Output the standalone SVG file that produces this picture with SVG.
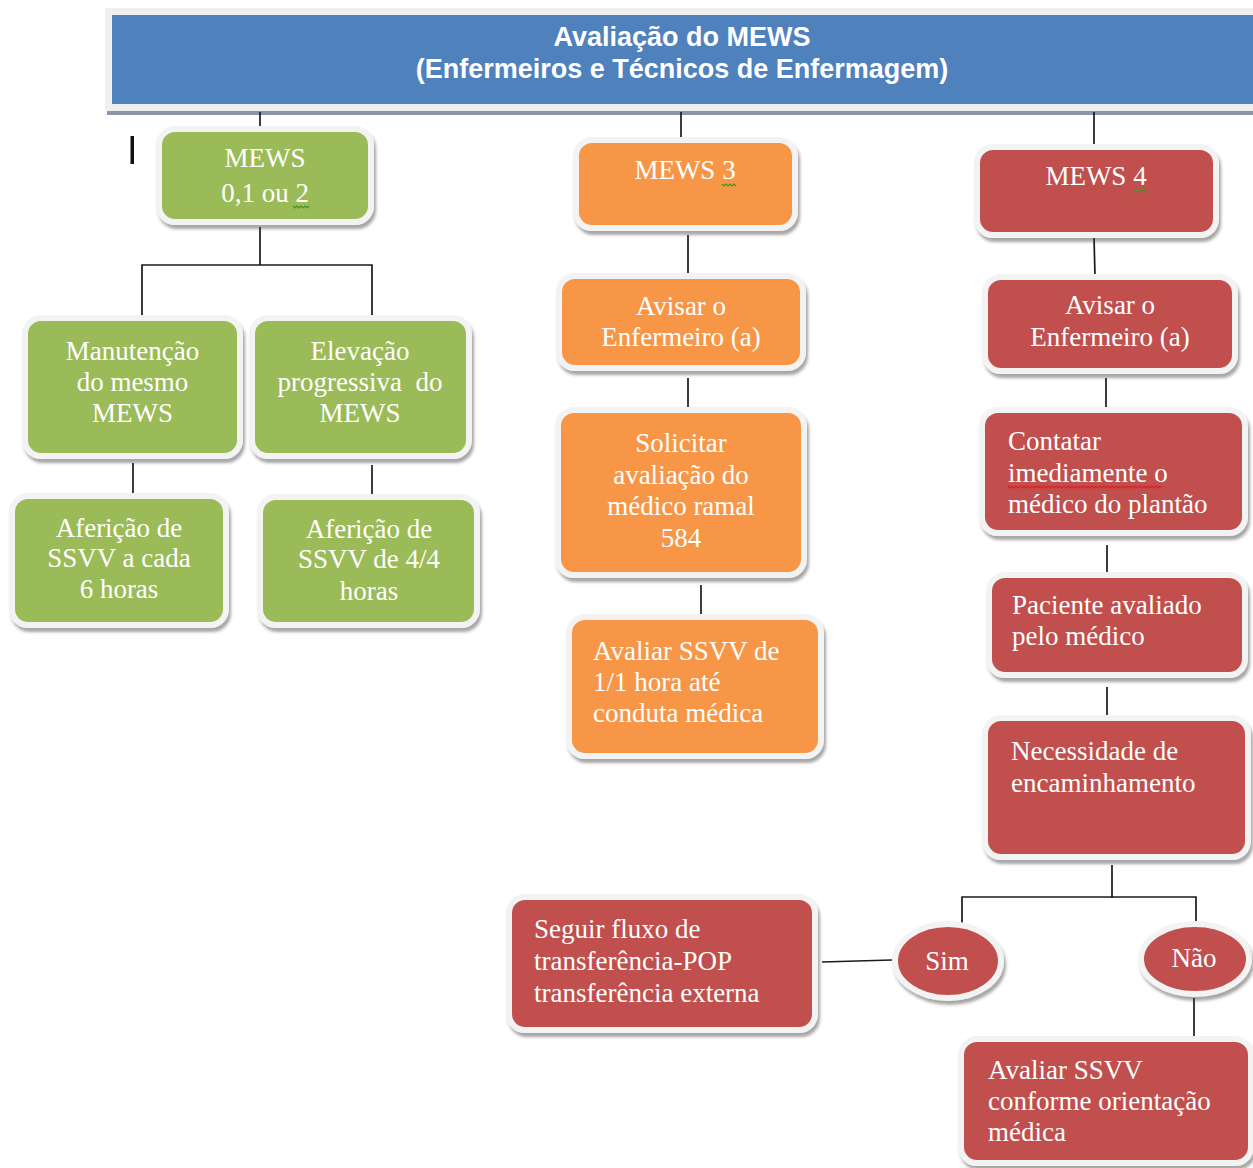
<svg xmlns="http://www.w3.org/2000/svg" width="1253" height="1168" viewBox="0 0 1253 1168">
<style>
  .bx { stroke: #f3f3f3; stroke-width: 6; filter: url(#sh); }
  .g { fill: #9BBB59; }
  .o { fill: #F79646; }
  .r { fill: #C0504D; }
  .t { font-family: "Liberation Serif", "Times New Roman", serif; font-size: 27px; fill: #ffffff; }
  .c { text-anchor: middle; }
  .hd { font-family: "Liberation Sans", Arial, sans-serif; font-size: 27px; font-weight: bold; fill: #ffffff; text-anchor: middle; }
  .ln { stroke: #1a1a1a; stroke-width: 1.7; fill: none; }
  .wg { stroke: #3a9a20; stroke-width: 1.2; fill: none; }
  .wr { stroke: #e02020; stroke-width: 1.2; fill: none; }
</style>
<defs>
  <filter id="sh" x="-10%" y="-10%" width="125%" height="130%">
    <feDropShadow dx="2" dy="4" stdDeviation="1.6" flood-color="#3a3a3a" flood-opacity="0.45"/>
  </filter>
</defs>
<rect width="1253" height="1168" fill="#ffffff"/>

<g id="header">
  <rect x="107" y="12" width="1150" height="103" fill="#8a97aa"/>
  <rect x="105" y="8" width="1150" height="103" fill="#efefef"/>
  <rect x="112" y="15" width="1145" height="89" fill="#4F81BD"/>
  <text class="hd" x="682" y="46">Avaliação do MEWS</text>
  <text class="hd" x="682" y="78">(Enfermeiros e Técnicos de Enfermagem)</text>
</g>

<rect id="cursor" x="130.5" y="136" width="3.5" height="28" fill="#111111"/>

<g id="connectors">
  <line class="ln" x1="260" y1="112" x2="260" y2="129"/>
  <line class="ln" x1="681" y1="112" x2="681" y2="137"/>
  <line class="ln" x1="1094" y1="112" x2="1094" y2="144"/>
  <polyline class="ln" points="260,227 260,265"/>
  <polyline class="ln" points="142,318 142,265 372,265 372,318"/>
  <line class="ln" x1="133" y1="463" x2="133" y2="495"/>
  <line class="ln" x1="372" y1="465" x2="372" y2="497"/>
  <line class="ln" x1="688" y1="235" x2="688" y2="273"/>
  <line class="ln" x1="688" y1="378" x2="688" y2="410"/>
  <line class="ln" x1="701" y1="585" x2="701" y2="618"/>
  <line class="ln" x1="1094" y1="237" x2="1095" y2="276"/>
  <line class="ln" x1="1106" y1="378" x2="1106" y2="410"/>
  <line class="ln" x1="1107" y1="545" x2="1107" y2="574"/>
  <line class="ln" x1="1107" y1="687" x2="1107" y2="718"/>
  <line class="ln" x1="1112" y1="865" x2="1112" y2="898"/>
  <polyline class="ln" points="962,924 962,897 1196,897 1196,921"/>
  <line class="ln" x1="822" y1="962" x2="892" y2="960"/>
  <line class="ln" x1="1194" y1="998" x2="1194" y2="1036"/>
</g>

<g id="n-mews012">
  <rect class="bx g" x="159" y="129" width="212" height="93" rx="16"/>
  <text class="t c" x="265" y="167">MEWS</text>
  <text class="t c" x="265" y="202">0,1 ou 2</text>
  <path class="wg" d="M293,206 l2,2 2,-2 2,2 2,-2 2,2 2,-2 2,2 2,-2"/>
</g>
<g id="n-manutencao">
  <rect class="bx g" x="25" y="318" width="215" height="138" rx="16"/>
  <text class="t c" x="132.5" y="360">Manutenção</text>
  <text class="t c" x="132.5" y="391">do mesmo</text>
  <text class="t c" x="132.5" y="422">MEWS</text>
</g>
<g id="n-elevacao">
  <rect class="bx g" x="252" y="318" width="217" height="138" rx="16"/>
  <text class="t c" x="360" y="360">Elevação</text>
  <text class="t c" x="360" y="391" xml:space="preserve">progressiva  do</text>
  <text class="t c" x="360" y="422">MEWS</text>
</g>
<g id="n-afericao6">
  <rect class="bx g" x="12" y="496" width="214" height="129" rx="16"/>
  <text class="t c" x="119" y="537">Aferição de</text>
  <text class="t c" x="119" y="567">SSVV a cada</text>
  <text class="t c" x="119" y="598">6 horas</text>
</g>
<g id="n-afericao4">
  <rect class="bx g" x="260" y="497" width="217" height="128" rx="16"/>
  <text class="t c" x="369" y="538">Aferição de</text>
  <text class="t c" x="369" y="568">SSVV de 4/4</text>
  <text class="t c" x="369" y="600">horas</text>
</g>

<g id="n-mews3">
  <rect class="bx o" x="576" y="140" width="219" height="88" rx="16"/>
  <text class="t c" x="685" y="179">MEWS 3</text>
  <path class="wg" d="M722,184 l2,2 2,-2 2,2 2,-2 2,2 2,-2 2,2"/>
</g>
<g id="n-avisar3">
  <rect class="bx o" x="559" y="276" width="244" height="92" rx="16"/>
  <text class="t c" x="681" y="315">Avisar o</text>
  <text class="t c" x="681" y="346">Enfermeiro (a)</text>
</g>
<g id="n-solicitar">
  <rect class="bx o" x="558" y="410" width="246" height="165" rx="16"/>
  <text class="t c" x="681" y="452">Solicitar</text>
  <text class="t c" x="681" y="484">avaliação do</text>
  <text class="t c" x="681" y="515">médico ramal</text>
  <text class="t c" x="681" y="547">584</text>
</g>
<g id="n-avaliar11">
  <rect class="bx o" x="569" y="617" width="252" height="139" rx="16"/>
  <text class="t" x="593" y="660">Avaliar SSVV de</text>
  <text class="t" x="593" y="691">1/1 hora até</text>
  <text class="t" x="593" y="722">conduta médica</text>
</g>

<g id="n-mews4">
  <rect class="bx r" x="977" y="147" width="239" height="88" rx="16"/>
  <text class="t c" x="1096" y="185">MEWS 4</text>
  <path class="wg" d="M1133,190 l2,2 2,-2 2,2 2,-2 2,2 2,-2 2,2"/>
</g>
<g id="n-avisar4">
  <rect class="bx r" x="985" y="277" width="250" height="94" rx="16"/>
  <text class="t c" x="1110" y="314">Avisar o</text>
  <text class="t c" x="1110" y="346">Enfermeiro (a)</text>
</g>
<g id="n-contatar">
  <rect class="bx r" x="982" y="410" width="263" height="123" rx="16"/>
  <text class="t" x="1008" y="450">Contatar</text>
  <text class="t" x="1008" y="482">imediamente o</text>
  <text class="t" x="1008" y="513">médico do plantão</text>
  <path class="wr" d="M1008,486 l2,2 2,-2 2,2 2,-2 2,2 2,-2 2,2 2,-2 2,2 2,-2 2,2 2,-2 2,2 2,-2 2,2 2,-2 2,2 2,-2 2,2 2,-2 2,2 2,-2 2,2 2,-2 2,2 2,-2 2,2 2,-2 2,2 2,-2 2,2 2,-2 2,2 2,-2 2,2 2,-2 2,2 2,-2 2,2 2,-2 2,2 2,-2 2,2 2,-2 2,2 2,-2 2,2 2,-2 2,2 2,-2 2,2 2,-2 2,2 2,-2 2,2 2,-2 2,2 2,-2 2,2 2,-2 2,2 2,-2 2,2 2,-2 2,2 2,-2 2,2 2,-2 2,2 2,-2 2,2 2,-2 2,2 2,-2 2,2 2,-2 2,2"/>
</g>
<g id="n-paciente">
  <rect class="bx r" x="989" y="575" width="256" height="100" rx="16"/>
  <text class="t" x="1012" y="614">Paciente avaliado</text>
  <text class="t" x="1012" y="645">pelo médico</text>
</g>
<g id="n-necessidade">
  <rect class="bx r" x="985" y="718" width="263" height="139" rx="16"/>
  <text class="t" x="1011" y="760">Necessidade de</text>
  <text class="t" x="1011" y="792">encaminhamento</text>
</g>
<g id="n-sim">
  <ellipse class="bx r" cx="948" cy="961" rx="53" ry="37"/>
  <text class="t c" x="947" y="970">Sim</text>
</g>
<g id="n-nao">
  <ellipse class="bx r" cx="1195" cy="959" rx="54" ry="35"/>
  <text class="t c" x="1194" y="967">Não</text>
</g>
<g id="n-seguir">
  <rect class="bx r" x="509" y="897" width="306" height="133" rx="16"/>
  <text class="t" x="534" y="938">Seguir fluxo de</text>
  <text class="t" x="534" y="970">transferência-POP</text>
  <text class="t" x="534" y="1002">transferência externa</text>
</g>
<g id="n-avaliarconforme">
  <rect class="bx r" x="961" y="1039" width="290" height="124" rx="16"/>
  <text class="t" x="988" y="1079">Avaliar SSVV</text>
  <text class="t" x="988" y="1110">conforme orientação</text>
  <text class="t" x="988" y="1141">médica</text>
</g>
</svg>
